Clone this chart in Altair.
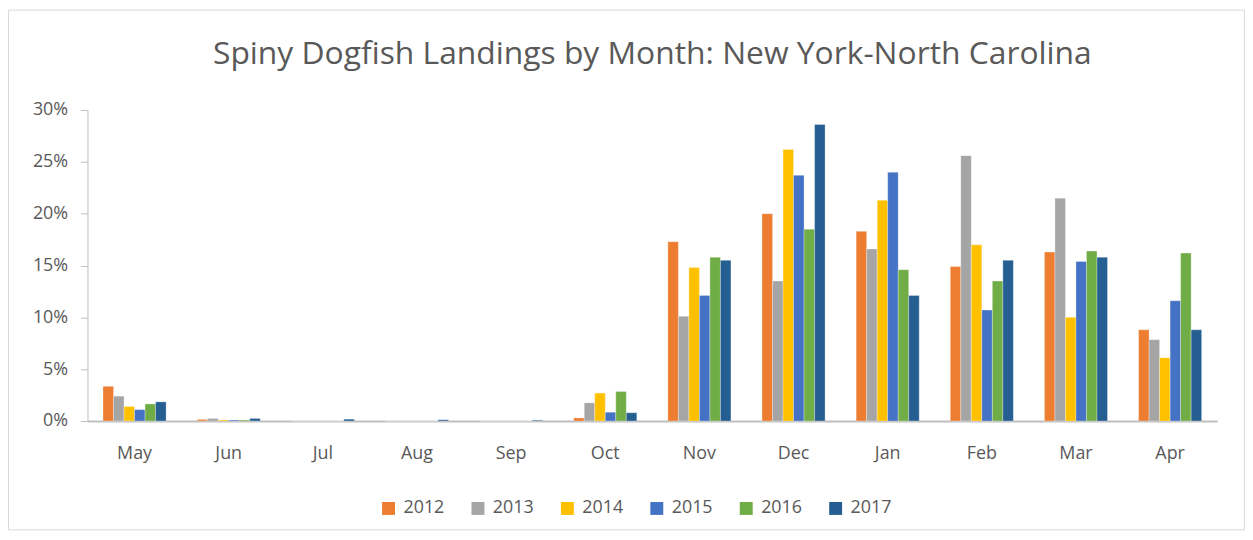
import altair as alt
import pandas as pd

months = ["May", "Jun", "Jul", "Aug", "Sep", "Oct", "Nov", "Dec", "Jan", "Feb", "Mar", "Apr"]
years = ["2012", "2013", "2014", "2015", "2016", "2017"]
colors = ["#ED7D31", "#A5A5A5", "#FFC000", "#4472C4", "#70AD47", "#255E91"]

# percent of landings by month
v2012 = [3.35, 0.15, 0.0, 0.0, 0.0, 0.3, 17.3, 20.0, 18.3, 14.9, 16.3, 8.8]
v2013 = [2.4, 0.25, 0.0, 0.0, 0.0, 1.75, 10.1, 13.5, 16.6, 25.6, 21.5, 7.85]
v2014 = [1.4, 0.1, 0.0, 0.0, 0.0, 2.7, 14.8, 26.2, 21.3, 17.0, 10.0, 6.1]
v2015 = [1.1, 0.1, 0.0, 0.0, 0.0, 0.85, 12.1, 23.7, 24.0, 10.7, 15.4, 11.6]
v2016 = [1.65, 0.1, 0.0, 0.0, 0.0, 2.85, 15.8, 18.5, 14.6, 13.5, 16.4, 16.2]
v2017 = [1.85, 0.25, 0.18, 0.12, 0.08, 0.8, 15.5, 28.6, 12.1, 15.5, 15.8, 8.8]

series = [v2012, v2013, v2014, v2015, v2016, v2017]
rows = []
for yr, vals in zip(years, series):
    for m, v in zip(months, vals):
        rows.append({"Month": m, "Year": yr, "Share": v / 100.0})
df = pd.DataFrame(rows)

W, H = 1137, 313
PL, PT, PR, PB = 80, 101, 28, 110
FONT = "Open Sans"
TXT = "#595959"

frame = alt.Chart(pd.DataFrame({"k": [0]})).mark_rect(
    fill="transparent", stroke="#d9d9d9", strokeWidth=1, clip=False
).encode(
    x=alt.value(-PL + 0.5), x2=alt.value(W + PR - 0.5),
    y=alt.value(-PT + 0.5), y2=alt.value(H + PB - 0.5),
)

bars = alt.Chart(df).mark_bar(stroke="white", strokeWidth=0.6, strokeOpacity=0.5).encode(
    x=alt.X("Month:N", sort=months,
            scale=alt.Scale(paddingInner=0.33, paddingOuter=0.165),
            axis=alt.Axis(title=None, labelAngle=0, ticks=False, domainColor="#bfbfbf",
                          domainWidth=2, labelPadding=24, labelFontSize=18,
                          labelColor=TXT, labelFont=FONT)),
    xOffset=alt.XOffset("Year:N", sort=years, scale=alt.Scale(paddingInner=0, paddingOuter=0)),
    y=alt.Y("Share:Q", scale=alt.Scale(domain=[0, 0.30], nice=False),
            axis=alt.Axis(title=None, format=".0%", values=[0, 0.05, 0.10, 0.15, 0.20, 0.25, 0.30],
                          grid=False, tickSize=7, tickColor="#bfbfbf", domainColor="#bfbfbf",
                          labelPadding=13, labelFontSize=18, labelColor=TXT, labelFont=FONT)),
    color=alt.Color("Year:N", sort=years, scale=alt.Scale(domain=years, range=colors),
                    legend=alt.Legend(title=None, orient="none", direction="horizontal",
                                      legendX=294, legendY=392, padding=0,
                                      symbolType="square", symbolSize=169, symbolStrokeWidth=0,
                                      labelFontSize=18, labelColor=TXT, labelFont=FONT,
                                      labelOffset=6, columnPadding=24)),
)

chart = alt.layer(frame, bars).properties(
    width=W, height=H,
    autosize=alt.AutoSizeParams(type="none"),
    padding={"left": PL, "top": PT, "right": PR, "bottom": PB},
    background="white",
    title=alt.Title("Spiny Dogfish Landings by Month: New York-North Carolina",
                    fontSize=32, font=FONT, fontWeight="normal", color=TXT,
                    anchor="middle", offset=-62, frame="group"),
).configure_view(strokeWidth=0, stroke="transparent")

chart.save("out.html", embed_options={"renderer": "svg", "actions": False})
